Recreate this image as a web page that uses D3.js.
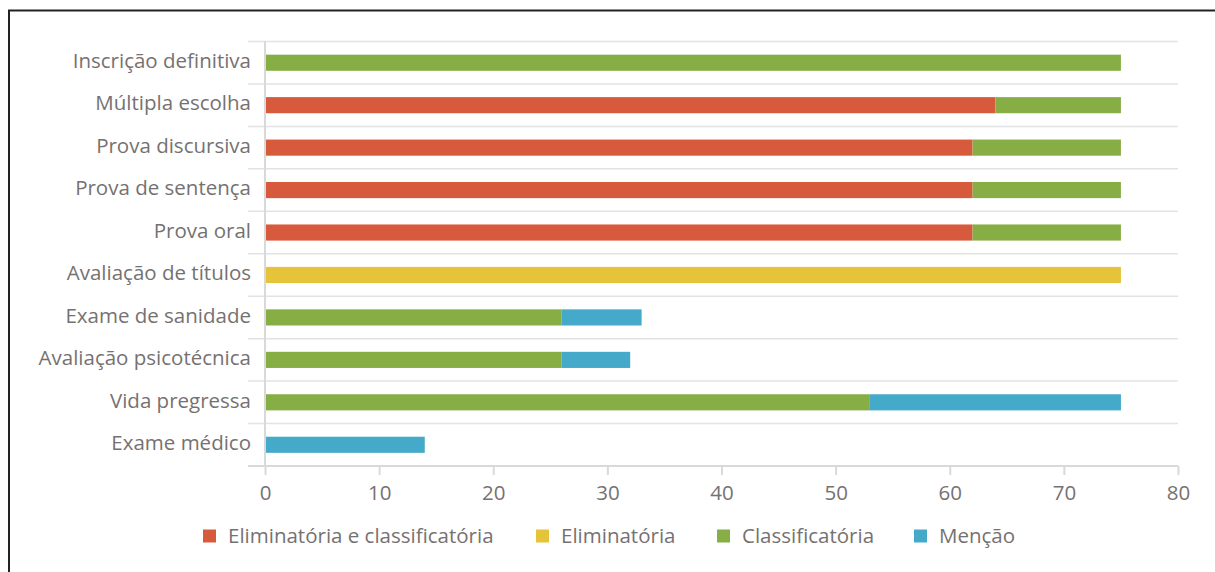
<!DOCTYPE html>
<html><head><meta charset="utf-8">
<script src="https://cdn.jsdelivr.net/npm/d3@7"></script>
<style>body{margin:0;background:#fff}svg{display:block}</style>
</head><body>
<script>
const categories = ["Inscrição definitiva","Múltipla escolha","Prova discursiva","Prova de sentença","Prova oral","Avaliação de títulos","Exame de sanidade","Avaliação psicotécnica","Vida pregressa","Exame médico"];
const seriesNames = ["Eliminatória e classificatória","Eliminatória","Classificatória","Menção"];
const elimClass = [0,64,62,62,62,0,0,0,0,0];
const elim = [0,0,0,0,0,75,0,0,0,0];
const classif = [75,11,13,13,13,0,26,26,53,0];
const mencao = [0,0,0,0,0,0,7,6,22,14];
const xTicks = [0,10,20,30,40,50,60,70,80];
const colors = ["#D85A3D","#E6C43A","#86AE45","#45A9C9"];

const W=1215,H=572;
const svg=d3.select("body").append("svg").attr("width",W).attr("height",H);
svg.append("path").attr("d",`M9,${H} V10.5 H${W}`).attr("fill","none").attr("stroke","#222").attr("stroke-width",2);

const x=d3.scaleLinear().domain([0,80]).range([265,1178]);
const y=d3.scaleBand().domain(categories).range([41.5,466]).paddingInner(0.62).paddingOuter(0.31);
const step=y.step();
const font="'Open Sans', sans-serif";
const txt="#767171";
const fs="20.5px";

const bounds=d3.range(categories.length+1).map(i=>41.5+i*step);
svg.append("g").selectAll("line").data(bounds.slice(0,-1)).join("line")
 .attr("x1",248).attr("x2",1178).attr("y1",d=>d).attr("y2",d=>d)
 .attr("stroke","#e3e3e3").attr("stroke-width",1.5);

const data=categories.map((c,i)=>({cat:c,vals:[elimClass[i],elim[i],classif[i],mencao[i]]}));
const stack=d3.stack().keys([0,1,2,3]).value((d,k)=>d.vals[k]);
const layers=stack(data);
svg.append("g").selectAll("g").data(layers).join("g").attr("fill",(d,i)=>colors[i])
 .selectAll("rect").data(d=>d.filter(s=>s[1]>s[0])).join("rect")
 .attr("x",d=>x(d[0])).attr("width",d=>x(d[1])-x(d[0]))
 .attr("y",d=>y(d.data.cat)).attr("height",y.bandwidth());

const ax=svg.append("g").attr("transform","translate(0,466)")
 .call(d3.axisBottom(x).tickValues(xTicks).tickSize(9).tickPadding(10));
ax.select(".domain").attr("stroke","#d9d9d9").attr("stroke-width",2).attr("d","M248,0H1178");
ax.selectAll(".tick line").attr("stroke","#d9d9d9").attr("stroke-width",2);
ax.selectAll(".tick text").attr("fill",txt).style("font-family",font).style("font-size",fs);

svg.append("line").attr("x1",265).attr("x2",265).attr("y1",41).attr("y2",466).attr("stroke","#d9d9d9").attr("stroke-width",2);

svg.append("g").selectAll("text").data(categories).join("text")
 .attr("x",251).attr("y",d=>y(d)+y.bandwidth()/2-2).attr("dy","0.35em")
 .attr("text-anchor","end").attr("fill",txt).style("font-family",font).style("font-size",fs).text(d=>d);

const legX=[203,536,717,914];
const lg=svg.append("g").selectAll("g").data(seriesNames).join("g").attr("transform",(d,i)=>`translate(${legX[i]},536)`);
lg.append("rect").attr("x",0).attr("y",-6.5).attr("width",13).attr("height",13).attr("fill",(d,i)=>colors[i]);
lg.append("text").attr("x",25).attr("dy","0.35em").attr("fill",txt).style("font-family",font).style("font-size",fs).text(d=>d);
</script>
</body></html>
